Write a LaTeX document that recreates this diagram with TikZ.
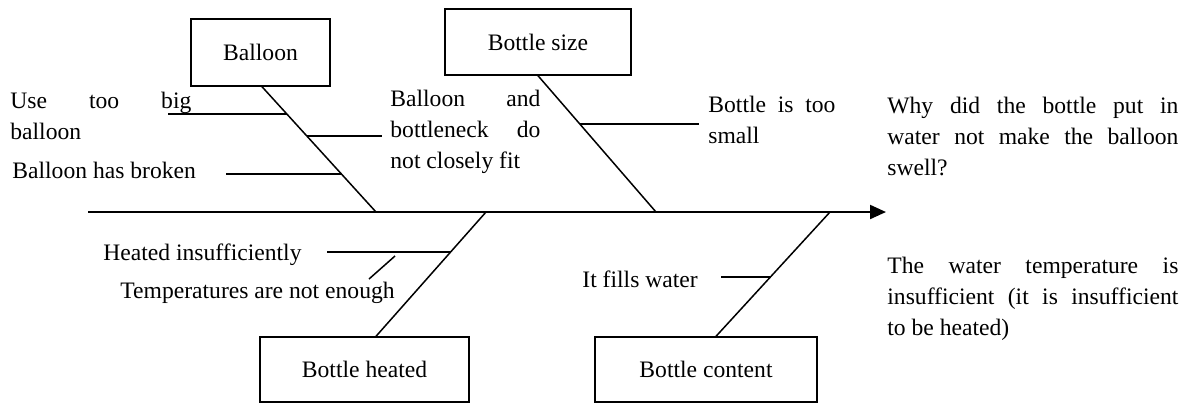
\documentclass[tikz,border=0pt]{standalone}
\usepackage{fontspec}
\setmainfont{Liberation Serif}
\usetikzlibrary{arrows.meta}
\begin{document}
\hyphenpenalty=10000
\begin{tikzpicture}[x=0.5pt,y=-0.5pt,
  every node/.style={font=\fontsize{11.8}{15.5}\selectfont, inner sep=0pt},
  causebox/.style={draw, line width=0.7pt, minimum height=33pt},
  bone/.style={line width=0.75pt},
  spine/.style={line width=1.05pt,-{Triangle[length=8pt,width=7pt]}},
  lbl/.style={anchor=base west},
  para/.style={anchor=base west, align=justify}
]
\useasboundingbox (0,0) rectangle (1187,404);

% cause boxes
\node[causebox, minimum width=69.5pt, minimum height=33.5pt] (balloon) at (260.5,52.5) {Balloon};
\node[causebox, minimum width=93pt] (size) at (538,42) {Bottle size};
\node[causebox, minimum width=104.5pt, minimum height=32.5pt] (heated) at (364.5,369.5) {Bottle heated};
\node[causebox, minimum width=111pt, minimum height=32.5pt] (content) at (706,369.5) {Bottle content};

% spine
\coordinate (s0) at (88,212);
\coordinate (sE) at (886,212);
\coordinate (b1) at (376,212);
\coordinate (b2) at (656,212);
\coordinate (b3) at (486,212);
\coordinate (b4) at (830,212);
\draw[spine] (s0) -- (sE);

% bones
\draw[bone] (balloon.south -| 262,0) -- (b1);
\draw[bone] (size.south) -- (b2);
\draw[bone] (b3) -- (heated.north -| 376,0);
\draw[bone] (b4) -- (content.north -| 716,0);

% branch points
\coordinate (p1a) at (168,114); \coordinate (p1b) at (287.3,114);
\coordinate (p2a) at (307.2,136); \coordinate (p2b) at (382,136);
\coordinate (p3a) at (226,174); \coordinate (p3b) at (341.6,174);
\coordinate (p4a) at (579.6,124); \coordinate (p4b) at (699,124);
\coordinate (p5a) at (327,252); \coordinate (p5b) at (450.8,252);
\coordinate (p6a) at (395,256); \coordinate (p6b) at (369,279);
\coordinate (p7a) at (721,277); \coordinate (p7b) at (770.7,277);
\draw[bone] (p1a) -- (p1b);
\draw[bone] (p2a) -- (p2b);
\draw[bone] (p3a) -- (p3b);
\draw[bone] (p4a) -- (p4b);
\draw[bone] (p5a) -- (p5b);
\draw[bone] (p6a) -- (p6b);
\draw[bone] (p7a) -- (p7b);

% labels
\node[para, text width=90.5pt] (t1) at (10,108) {Use too big\linebreak balloon};
\node[lbl] (t2) at (12,178) {Balloon has broken};
\node[para, text width=75pt] (t3) at (390,106) {Balloon and\linebreak bottleneck do\linebreak not closely fit};
\node[para, text width=63.5pt] (t4) at (708,112) {Bottle is too\linebreak small};
\node[para, text width=145.5pt] (t5) at (887,113) {Why did the bottle put in\linebreak water not make the balloon\linebreak swell?};
\node[para, text width=145.5pt] (t6) at (887,273) {The water temperature is\linebreak insufficient (it is insufficient\linebreak to be heated)};
\node[lbl] (t7) at (103,260) {Heated insufficiently};
\node[lbl] (t8) at (120,298) {Temperatures are not enough};
\node[lbl] (t9) at (582,287) {It fills water};
\end{tikzpicture}
\end{document}
